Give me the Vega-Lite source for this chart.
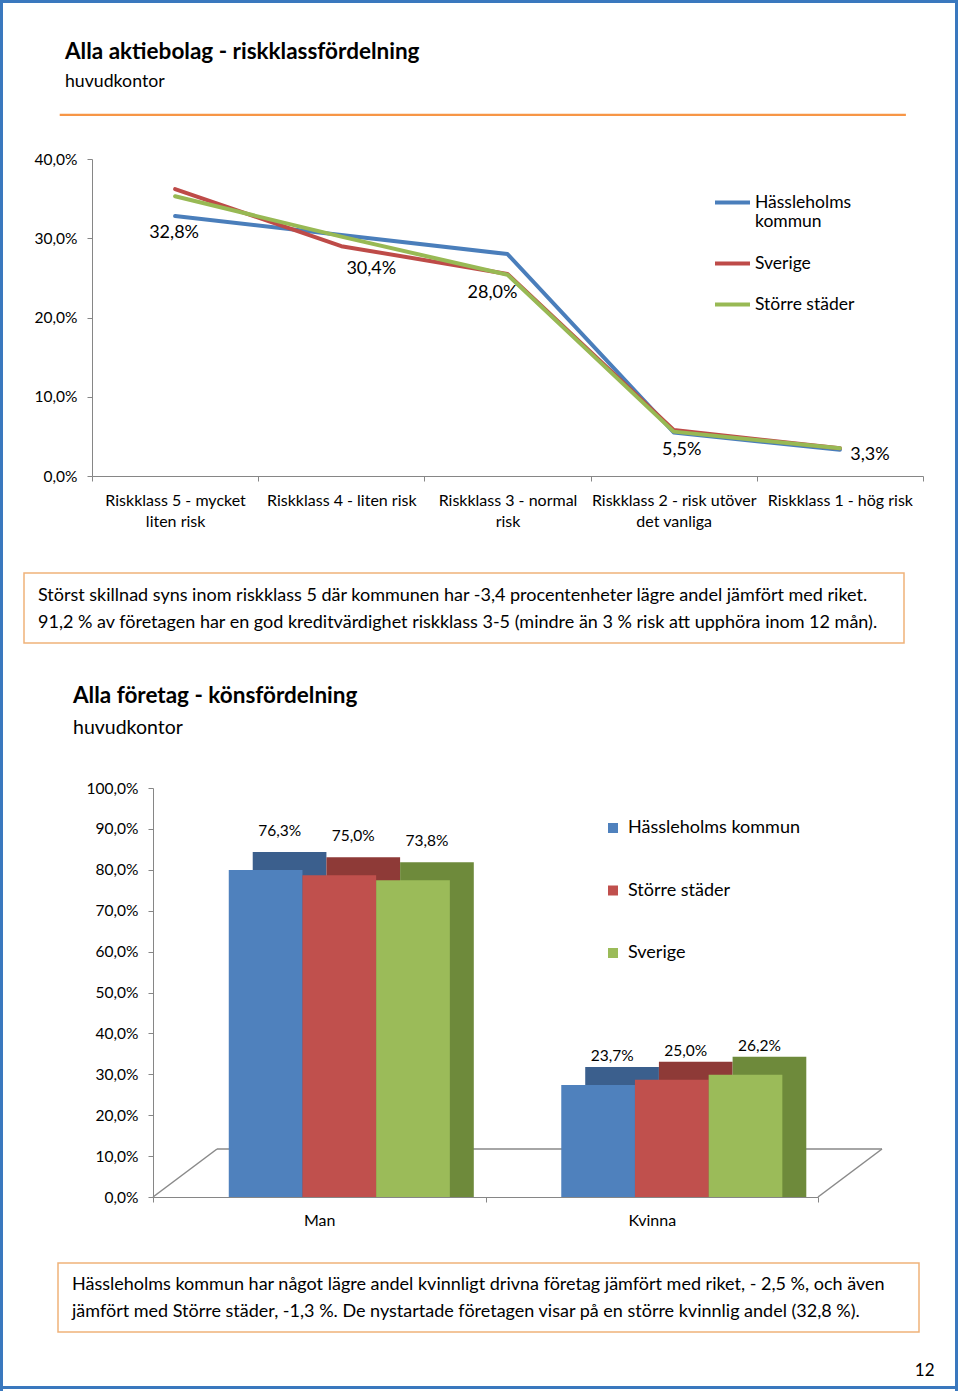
{
  "$schema": "https://vega.github.io/schema/vega-lite/v6.json",
  "background": "white",
  "padding": {"left": 0, "top": 0, "right": 0, "bottom": 0},
  "spacing": 0,
  "resolve": {"scale": {"color": "independent"}, "legend": {"color": "independent"}},
  "config": {
    "font": "Lato",
    "locale": {"number": {"decimal": ",", "thousands": " ", "grouping": [3], "currency": ["", " kr"]}},
    "view": {"stroke": null},
    "axis": {"labelFont": "Lato", "labelColor": "#000000", "domainColor": "#868686", "tickColor": "#868686", "grid": false, "titleFont": "Lato", "titleColor": "#000000"},
    "legend": {"labelFont": "Lato", "labelColor": "#000000"},
    "title": {"font": "Lato", "subtitleFont": "Lato", "color": "#000000", "subtitleColor": "#000000", "frame": "group"},
    "text": {"font": "Lato", "color": "#000000"}
  },
  "datasets": {
    "risk": [
      {"klass": "Riskklass 5 - mycket liten risk", "serie": "Hässleholms kommun", "andel": 0.328},
      {"klass": "Riskklass 4 - liten risk", "serie": "Hässleholms kommun", "andel": 0.304},
      {"klass": "Riskklass 3 - normal risk", "serie": "Hässleholms kommun", "andel": 0.280},
      {"klass": "Riskklass 2 - risk utöver det vanliga", "serie": "Hässleholms kommun", "andel": 0.055},
      {"klass": "Riskklass 1 - hög risk", "serie": "Hässleholms kommun", "andel": 0.033},
      {"klass": "Riskklass 5 - mycket liten risk", "serie": "Sverige", "andel": 0.362},
      {"klass": "Riskklass 4 - liten risk", "serie": "Sverige", "andel": 0.290},
      {"klass": "Riskklass 3 - normal risk", "serie": "Sverige", "andel": 0.255},
      {"klass": "Riskklass 2 - risk utöver det vanliga", "serie": "Sverige", "andel": 0.058},
      {"klass": "Riskklass 1 - hög risk", "serie": "Sverige", "andel": 0.035},
      {"klass": "Riskklass 5 - mycket liten risk", "serie": "Större städer", "andel": 0.353},
      {"klass": "Riskklass 4 - liten risk", "serie": "Större städer", "andel": 0.302},
      {"klass": "Riskklass 3 - normal risk", "serie": "Större städer", "andel": 0.254},
      {"klass": "Riskklass 2 - risk utöver det vanliga", "serie": "Större städer", "andel": 0.056},
      {"klass": "Riskklass 1 - hög risk", "serie": "Större städer", "andel": 0.035}
    ],
    "kon": [
      {"kon": "Man", "serie": "Hässleholms kommun", "andel": 0.763},
      {"kon": "Man", "serie": "Större städer", "andel": 0.750},
      {"kon": "Man", "serie": "Sverige", "andel": 0.738},
      {"kon": "Kvinna", "serie": "Hässleholms kommun", "andel": 0.237},
      {"kon": "Kvinna", "serie": "Större städer", "andel": 0.250},
      {"kon": "Kvinna", "serie": "Sverige", "andel": 0.262}
    ]
  },
  "hconcat": [
    {"width": 1, "height": 1389, "view": {"stroke": "#3A78BE", "strokeWidth": 2}, "data": {"values": [{}]}, "mark": {"type": "text", "fontSize": 0}, "encoding": {"text": {"value": ""}}},
    {
      "spacing": 0,
      "resolve": {"scale": {"color": "independent"}, "legend": {"color": "independent"}},
      "vconcat": [
        {
          "width": 950,
          "height": 1,
          "view": {"stroke": "#3A78BE", "strokeWidth": 2},
          "data": {"values": [{"k": ""}]},
          "mark": {"type": "text", "fontSize": 0},
          "encoding": {
            "text": {"field": "k"},
            "x": {"datum": "a", "type": "nominal", "axis": {"labels": false, "ticks": false, "domain": false, "title": null, "minExtent": 37, "maxExtent": 37}}
          }
        },
        {
          "spacing": 0,
          "resolve": {"scale": {"color": "independent"}, "legend": {"color": "independent"}},
          "hconcat": [
            {"width": 55, "height": 1, "data": {"values": [{}]}, "mark": {"type": "text", "fontSize": 0}, "encoding": {"text": {"value": ""}}},
            {
              "width": 845,
              "height": 1,
              "view": {"stroke": "#F79646", "strokeWidth": 1.2},
              "title": {"text": "Alla aktiebolag - riskklassfördelning", "subtitle": "huvudkontor", "anchor": "start", "frame": "group", "dx": 5, "offset": 23, "fontSize": 22.5, "fontWeight": "bold", "subtitleFontSize": 17.7, "subtitlePadding": 10},
              "data": {"values": [{"k": ""}]},
              "mark": {"type": "text", "fontSize": 0},
              "encoding": {
                "text": {"field": "k"},
                "x": {"datum": "a", "type": "nominal", "axis": {"labels": false, "ticks": false, "domain": false, "title": null, "minExtent": 36, "maxExtent": 36}}
              }
            }
          ]
        },
        {
          "spacing": 0,
          "resolve": {"scale": {"color": "independent"}, "legend": {"color": "independent"}},
          "hconcat": [
            {"width": 19, "height": 1, "data": {"values": [{}]}, "mark": {"type": "text", "fontSize": 0}, "encoding": {"text": {"value": ""}}},
            {
              "width": 831,
              "height": 317,
              "data": {"name": "risk"},
              "layer": [
                {
                  "mark": {"type": "line", "strokeWidth": 4, "strokeCap": "round", "strokeJoin": "round"},
                  "encoding": {
                    "x": {"field": "klass", "type": "nominal", "bandPosition": 0.5, "scale": {"type": "band", "domain": ["Riskklass 5 - mycket liten risk", "Riskklass 4 - liten risk", "Riskklass 3 - normal risk", "Riskklass 2 - risk utöver det vanliga", "Riskklass 1 - hög risk"], "paddingInner": 0, "paddingOuter": 0},
                      "axis": {"title": null, "labelFontSize": 16, "labelPadding": 11, "tickSize": 5, "tickBand": "extent", "labelAngle": 0, "labelLineHeight": 21, "labelOverlap": false, "labelLimit": 300, "minExtent": 96, "maxExtent": 96,
                        "labelExpr": "datum.label == 'Riskklass 5 - mycket liten risk' ? ['Riskklass 5 - mycket', 'liten risk'] : datum.label == 'Riskklass 3 - normal risk' ? ['Riskklass 3 - normal', 'risk'] : datum.label == 'Riskklass 2 - risk utöver det vanliga' ? ['Riskklass 2 - risk utöver', 'det vanliga'] : datum.label"}},
                    "y": {"field": "andel", "type": "quantitative", "scale": {"domain": [0, 0.4]}, "axis": {"title": null, "values": [0, 0.05, 0.1, 0.15, 0.2, 0.25, 0.3, 0.35, 0.4], "format": ".1%", "labelFontSize": 15.5, "labelPadding": 10, "tickSize": 5, "minExtent": 69, "maxExtent": 69}},
                    "color": {"field": "serie", "type": "nominal", "scale": {"domain": ["Hässleholms kommun", "Sverige", "Större städer"], "range": ["#4A7EBB", "#BE4B48", "#98B954"]},
                      "legend": {"title": null, "orient": "none", "legendX": 621, "legendY": 24, "symbolType": "stroke", "symbolSize": 1225, "symbolStrokeWidth": 4, "labelFontSize": 17.5, "labelOffset": 3, "labelLimit": 300, "rowPadding": 13, "padding": 0,
                        "labelExpr": "datum.label == 'Hässleholms kommun' ? ['Hässleholms', 'kommun'] : datum.label"}}
                  }
                },
                {
                  "transform": [{"filter": "datum.serie == 'Hässleholms kommun' && datum.klass == 'Riskklass 5 - mycket liten risk'"}],
                  "mark": {"type": "text", "fontSize": 18, "baseline": "middle", "dx": -1, "dy": 17},
                  "encoding": {
                    "x": {"field": "klass", "type": "nominal", "bandPosition": 0.5, "scale": {"type": "band", "domain": ["Riskklass 5 - mycket liten risk", "Riskklass 4 - liten risk", "Riskklass 3 - normal risk", "Riskklass 2 - risk utöver det vanliga", "Riskklass 1 - hög risk"], "paddingInner": 0, "paddingOuter": 0}, "axis": {"title": null}},
                    "y": {"field": "andel", "type": "quantitative", "scale": {"domain": [0, 0.4]}, "axis": {"title": null}},
                    "text": {"field": "andel", "type": "quantitative", "format": ".1%"}
                  }
                },
                {
                  "transform": [{"filter": "datum.serie == 'Hässleholms kommun' && datum.klass == 'Riskklass 4 - liten risk'"}],
                  "mark": {"type": "text", "fontSize": 18, "baseline": "middle", "dx": 30, "dy": 34},
                  "encoding": {
                    "x": {"field": "klass", "type": "nominal", "bandPosition": 0.5, "scale": {"type": "band", "domain": ["Riskklass 5 - mycket liten risk", "Riskklass 4 - liten risk", "Riskklass 3 - normal risk", "Riskklass 2 - risk utöver det vanliga", "Riskklass 1 - hög risk"], "paddingInner": 0, "paddingOuter": 0}, "axis": {"title": null}},
                    "y": {"field": "andel", "type": "quantitative", "scale": {"domain": [0, 0.4]}, "axis": {"title": null}},
                    "text": {"field": "andel", "type": "quantitative", "format": ".1%"}
                  }
                },
                {
                  "transform": [{"filter": "datum.serie == 'Hässleholms kommun' && datum.klass == 'Riskklass 3 - normal risk'"}],
                  "mark": {"type": "text", "fontSize": 18, "baseline": "middle", "dx": -15, "dy": 39},
                  "encoding": {
                    "x": {"field": "klass", "type": "nominal", "bandPosition": 0.5, "scale": {"type": "band", "domain": ["Riskklass 5 - mycket liten risk", "Riskklass 4 - liten risk", "Riskklass 3 - normal risk", "Riskklass 2 - risk utöver det vanliga", "Riskklass 1 - hög risk"], "paddingInner": 0, "paddingOuter": 0}, "axis": {"title": null}},
                    "y": {"field": "andel", "type": "quantitative", "scale": {"domain": [0, 0.4]}, "axis": {"title": null}},
                    "text": {"field": "andel", "type": "quantitative", "format": ".1%"}
                  }
                },
                {
                  "transform": [{"filter": "datum.serie == 'Hässleholms kommun' && datum.klass == 'Riskklass 2 - risk utöver det vanliga'"}],
                  "mark": {"type": "text", "fontSize": 18, "baseline": "middle", "dx": 8, "dy": 18},
                  "encoding": {
                    "x": {"field": "klass", "type": "nominal", "bandPosition": 0.5, "scale": {"type": "band", "domain": ["Riskklass 5 - mycket liten risk", "Riskklass 4 - liten risk", "Riskklass 3 - normal risk", "Riskklass 2 - risk utöver det vanliga", "Riskklass 1 - hög risk"], "paddingInner": 0, "paddingOuter": 0}, "axis": {"title": null}},
                    "y": {"field": "andel", "type": "quantitative", "scale": {"domain": [0, 0.4]}, "axis": {"title": null}},
                    "text": {"field": "andel", "type": "quantitative", "format": ".1%"}
                  }
                },
                {
                  "transform": [{"filter": "datum.serie == 'Hässleholms kommun' && datum.klass == 'Riskklass 1 - hög risk'"}],
                  "mark": {"type": "text", "fontSize": 18, "baseline": "middle", "dx": 30, "dy": 5},
                  "encoding": {
                    "x": {"field": "klass", "type": "nominal", "bandPosition": 0.5, "scale": {"type": "band", "domain": ["Riskklass 5 - mycket liten risk", "Riskklass 4 - liten risk", "Riskklass 3 - normal risk", "Riskklass 2 - risk utöver det vanliga", "Riskklass 1 - hög risk"], "paddingInner": 0, "paddingOuter": 0}, "axis": {"title": null}},
                    "y": {"field": "andel", "type": "quantitative", "scale": {"domain": [0, 0.4]}, "axis": {"title": null}},
                    "text": {"field": "andel", "type": "quantitative", "format": ".1%"}
                  }
                }
              ]
            }
          ]
        },
        {
          "spacing": 0,
          "hconcat": [
            {"width": 19, "height": 1, "data": {"values": [{}]}, "mark": {"type": "text", "fontSize": 0}, "encoding": {"text": {"value": ""}}},
            {
              "width": 880,
              "height": 70,
              "view": {"stroke": "#F0B27A", "strokeWidth": 1.5},
              "title": {"text": ["Störst skillnad syns inom riskklass 5 där kommunen har -3,4 procentenheter lägre andel jämfört med riket.", "91,2 % av företagen har en god kreditvärdighet riskklass 3-5 (mindre än 3 % risk att upphöra inom 12 mån)."], "anchor": "start", "frame": "group", "dx": 14, "offset": -58.5, "fontSize": 18, "fontWeight": "normal", "lineHeight": 27},
              "data": {"values": [{"k": ""}]},
              "mark": {"type": "text", "fontSize": 0},
              "encoding": {
                "text": {"field": "k"},
                "x": {"datum": "a", "type": "nominal", "axis": {"labels": false, "ticks": false, "domain": false, "title": null, "minExtent": 41, "maxExtent": 41}}
              }
            }
          ]
        },
        {
          "spacing": 0,
          "resolve": {"scale": {"color": "independent"}, "legend": {"color": "independent"}},
          "hconcat": [
            {"width": 19, "height": 1, "data": {"values": [{}]}, "mark": {"type": "text", "fontSize": 0}, "encoding": {"text": {"value": ""}}},
            {
              "width": 665,
              "height": 409,
              "title": {"text": "Alla företag - könsfördelning", "subtitle": "huvudkontor", "anchor": "start", "frame": "group", "dx": -80, "offset": 44, "fontSize": 22.5, "fontWeight": "bold", "subtitleFontSize": 19.5, "subtitlePadding": 11},
              "data": {"name": "kon"},
              "layer": [
                {
                  "data": {"values": [{"k": 1}]},
                  "layer": [
                    {
                      "mark": {"type": "rule", "color": "#898989", "strokeWidth": 1.5, "xOffset": 64, "x2Offset": 64, "yOffset": -48, "y2Offset": -48},
                      "encoding": {
                        "x": {"datum": 0, "type": "quantitative", "scale": {"domain": [0, 1]}, "axis": null},
                        "x2": {"datum": 1},
                        "y": {"datum": 0, "type": "quantitative", "scale": {"domain": [0, 1]}, "axis": {"title": null, "values": [0, 0.1, 0.2, 0.3, 0.4, 0.5, 0.6, 0.7, 0.8, 0.9, 1], "format": ".1%", "labelFontSize": 15.5, "labelPadding": 10, "tickSize": 5, "minExtent": 130, "maxExtent": 130}},
                        "y2": {"datum": 0}
                      }
                    },
                    {
                      "mark": {"type": "rule", "color": "#898989", "strokeWidth": 1.5, "x2Offset": 64, "y2Offset": -48},
                      "encoding": {
                        "x": {"datum": 0, "type": "quantitative", "scale": {"domain": [0, 1]}, "axis": null},
                        "x2": {"datum": 0},
                        "y": {"datum": 0, "type": "quantitative", "scale": {"domain": [0, 1]}, "axis": {"title": null, "values": [0, 0.1, 0.2, 0.3, 0.4, 0.5, 0.6, 0.7, 0.8, 0.9, 1], "format": ".1%", "labelFontSize": 15.5, "labelPadding": 10, "tickSize": 5, "minExtent": 130, "maxExtent": 130}},
                        "y2": {"datum": 0}
                      }
                    },
                    {
                      "mark": {"type": "rule", "color": "#898989", "strokeWidth": 1.5, "x2Offset": 64, "y2Offset": -48},
                      "encoding": {
                        "x": {"datum": 1, "type": "quantitative", "scale": {"domain": [0, 1]}, "axis": null},
                        "x2": {"datum": 1},
                        "y": {"datum": 0, "type": "quantitative", "scale": {"domain": [0, 1]}, "axis": {"title": null, "values": [0, 0.1, 0.2, 0.3, 0.4, 0.5, 0.6, 0.7, 0.8, 0.9, 1], "format": ".1%", "labelFontSize": 15.5, "labelPadding": 10, "tickSize": 5, "minExtent": 130, "maxExtent": 130}},
                        "y2": {"datum": 0}
                      }
                    }
                  ]
                },
                {
                  "layer": [
                    {
                      "mark": {"type": "bar", "yOffset": -33, "y2Offset": -33},
                      "encoding": {
                        "x": {"field": "kon", "type": "nominal", "scale": {"domain": ["Man", "Kvinna"], "paddingInner": 0, "paddingOuter": 0}, "axis": {"title": null, "labelFontSize": 16, "labelPadding": 10, "tickSize": 5, "tickBand": "extent", "labelAngle": 0, "minExtent": 65, "maxExtent": 65}},
                        "xOffset": {"field": "serie", "type": "nominal", "scale": {"domain": ["Hässleholms kommun", "Större städer", "Sverige"], "paddingInner": 0, "paddingOuter": 0.756, "align": 0.895}},
                        "y": {"field": "andel", "type": "quantitative", "stack": null, "scale": {"domain": [0, 1]}, "axis": {"title": null, "values": [0, 0.1, 0.2, 0.3, 0.4, 0.5, 0.6, 0.7, 0.8, 0.9, 1], "format": ".1%", "labelFontSize": 15.5, "labelPadding": 10, "tickSize": 5, "minExtent": 130, "maxExtent": 130}},
                        "color": {"field": "serie", "type": "nominal", "scale": {"domain": ["Hässleholms kommun", "Större städer", "Sverige"], "range": ["#3B5F8D", "#8E3A37", "#6E8A3B"]}, "legend": null}
                      }
                    },
                    {
                      "layer": [
                        {
                          "mark": {"type": "bar", "yOffset": -15, "y2Offset": -15},
                          "encoding": {
                            "x": {"field": "kon", "type": "nominal", "scale": {"domain": ["Man", "Kvinna"], "paddingInner": 0, "paddingOuter": 0}, "axis": {"title": null, "labelFontSize": 16, "labelPadding": 10, "tickSize": 5, "tickBand": "extent", "labelAngle": 0, "minExtent": 65, "maxExtent": 65}},
                            "xOffset": {"field": "serie", "type": "nominal", "scale": {"domain": ["Hässleholms kommun", "Större städer", "Sverige"], "paddingInner": 0, "paddingOuter": 0.756, "align": 0.68}},
                            "y": {"field": "andel", "type": "quantitative", "stack": null, "scale": {"domain": [0, 1]}, "axis": {"title": null, "values": [0, 0.1, 0.2, 0.3, 0.4, 0.5, 0.6, 0.7, 0.8, 0.9, 1], "format": ".1%", "labelFontSize": 15.5, "labelPadding": 10, "tickSize": 5, "minExtent": 130, "maxExtent": 130}},
                            "color": {"field": "serie", "type": "nominal", "scale": {"domain": ["Hässleholms kommun", "Större städer", "Sverige"], "range": ["#4F81BD", "#C0504D", "#9BBB59"]},
                              "legend": {"title": null, "orient": "none", "legendX": 451, "legendY": 31, "symbolType": "square", "symbolSize": 100, "symbolStrokeWidth": 0, "labelFontSize": 18, "labelOffset": 6, "labelLimit": 300, "rowPadding": 44.5, "padding": 0}}
                          }
                        },
                        {
                          "transform": [{"filter": "datum.kon == 'Man'"}],
                          "mark": {"type": "text", "fontSize": 15.5, "baseline": "middle", "dx": 14, "dy": -54},
                          "encoding": {
                            "x": {"field": "kon", "type": "nominal", "scale": {"domain": ["Man", "Kvinna"], "paddingInner": 0, "paddingOuter": 0}, "axis": {"title": null, "labelFontSize": 16, "labelPadding": 10, "tickSize": 5, "tickBand": "extent", "labelAngle": 0, "minExtent": 65, "maxExtent": 65}},
                            "xOffset": {"field": "serie", "type": "nominal", "scale": {"domain": ["Hässleholms kommun", "Större städer", "Sverige"], "paddingInner": 0, "paddingOuter": 0.756, "align": 0.68}},
                            "y": {"field": "andel", "type": "quantitative", "stack": null, "scale": {"domain": [0, 1]}, "axis": {"title": null, "values": [0, 0.1, 0.2, 0.3, 0.4, 0.5, 0.6, 0.7, 0.8, 0.9, 1], "format": ".1%", "labelFontSize": 15.5, "labelPadding": 10, "tickSize": 5, "minExtent": 130, "maxExtent": 130}},
                            "text": {"field": "andel", "type": "quantitative", "format": ".1%"}
                          }
                        },
                        {
                          "transform": [{"filter": "datum.kon == 'Kvinna'"}],
                          "mark": {"type": "text", "fontSize": 15.5, "baseline": "middle", "dx": 14, "dy": -44},
                          "encoding": {
                            "x": {"field": "kon", "type": "nominal", "scale": {"domain": ["Man", "Kvinna"], "paddingInner": 0, "paddingOuter": 0}, "axis": {"title": null, "labelFontSize": 16, "labelPadding": 10, "tickSize": 5, "tickBand": "extent", "labelAngle": 0, "minExtent": 65, "maxExtent": 65}},
                            "xOffset": {"field": "serie", "type": "nominal", "scale": {"domain": ["Hässleholms kommun", "Större städer", "Sverige"], "paddingInner": 0, "paddingOuter": 0.756, "align": 0.68}},
                            "y": {"field": "andel", "type": "quantitative", "stack": null, "scale": {"domain": [0, 1]}, "axis": {"title": null, "values": [0, 0.1, 0.2, 0.3, 0.4, 0.5, 0.6, 0.7, 0.8, 0.9, 1], "format": ".1%", "labelFontSize": 15.5, "labelPadding": 10, "tickSize": 5, "minExtent": 130, "maxExtent": 130}},
                            "text": {"field": "andel", "type": "quantitative", "format": ".1%"}
                          }
                        }
                      ]
                    }
                  ],
                  "resolve": {"scale": {"xOffset": "independent", "color": "independent"}}
                }
              ],
              "resolve": {"scale": {"x": "independent"}}
            }
          ]
        },
        {
          "spacing": 0,
          "hconcat": [
            {"width": 53, "height": 1, "data": {"values": [{}]}, "mark": {"type": "text", "fontSize": 0}, "encoding": {"text": {"value": ""}}},
            {
              "width": 861,
              "height": 69,
              "view": {"stroke": "#F0B27A", "strokeWidth": 1.5},
              "title": {"text": ["Hässleholms kommun har något lägre andel kvinnligt drivna företag jämfört med riket, - 2,5 %, och även", "jämfört med Större städer, -1,3 %. De nystartade företagen visar på en större kvinnlig andel (32,8 %)."], "anchor": "start", "frame": "group", "dx": 14, "offset": -57.5, "fontSize": 18, "fontWeight": "normal", "lineHeight": 27},
              "data": {"values": [{"k": ""}]},
              "mark": {"type": "text", "fontSize": 0},
              "encoding": {
                "text": {"field": "k"},
                "x": {"datum": "a", "type": "nominal", "axis": {"labels": false, "ticks": false, "domain": false, "title": "12", "titleX": 876, "titleY": 30, "titleAlign": "right", "titleBaseline": "top", "titleFontSize": 17, "titleFontWeight": "normal", "minExtent": 53, "maxExtent": 53}}
              }
            }
          ]
        },
        {
          "width": 950,
          "height": 1,
          "view": {"stroke": "#3A78BE", "strokeWidth": 2},
          "data": {"values": [{"k": ""}]},
          "mark": {"type": "text", "fontSize": 0},
          "encoding": {"text": {"field": "k"}}
        }
      ]
    },
    {"width": 1, "height": 1389, "view": {"stroke": "#3A78BE", "strokeWidth": 2}, "data": {"values": [{}]}, "mark": {"type": "text", "fontSize": 0}, "encoding": {"text": {"value": ""}}}
  ]
}
